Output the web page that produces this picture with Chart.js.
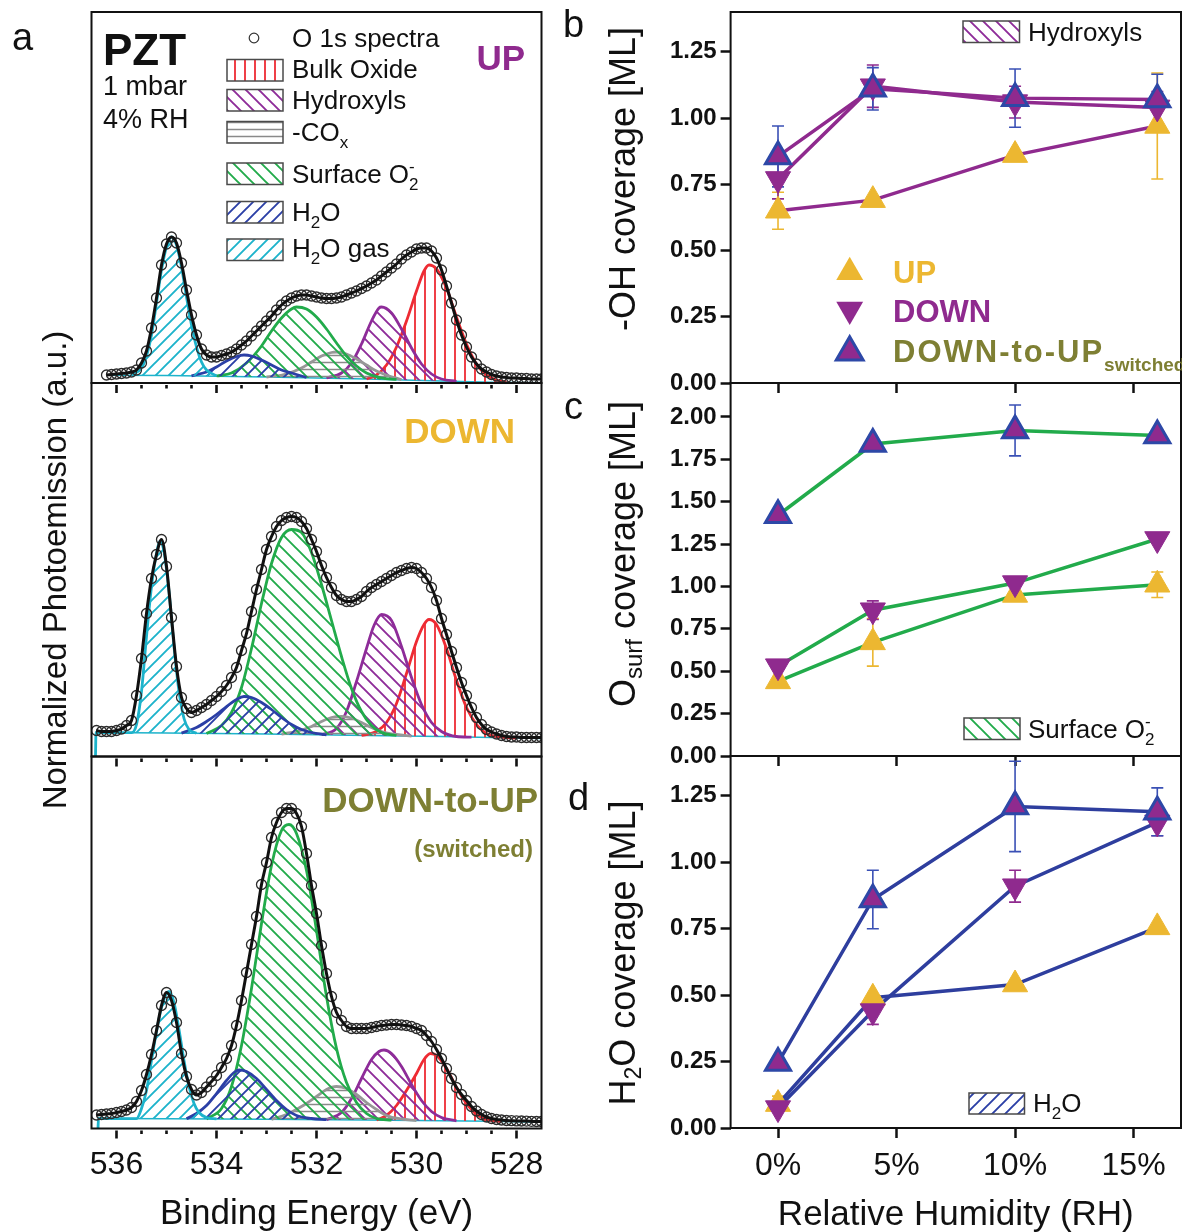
<!DOCTYPE html>
<html><head><meta charset="utf-8">
<script src="https://cdn.jsdelivr.net/npm/chart.js@4.4.1/dist/chart.umd.min.js"></script>
<style>
html,body{margin:0;padding:0;background:#fff;}
#wrap{position:relative;width:1182px;height:1232px;overflow:hidden;background:#fff;}
#wrap canvas{position:absolute;left:-40px;top:-40px;}
</style></head><body>
<div id="wrap">
<canvas id="cUp" width="1262" height="1312"></canvas>
<canvas id="cDown" width="1262" height="1312"></canvas>
<canvas id="cSw" width="1262" height="1312"></canvas>
<canvas id="cOH" width="1262" height="1312"></canvas>
<canvas id="cOS" width="1262" height="1312"></canvas>
<canvas id="cH2O" width="1262" height="1312"></canvas>
</div>
<script>
// ---------------- DATA ----------------
// Binding energy grid (eV) of the measured O 1s spectra
const energies = [
536.4,536.3,536.2,536.1,536.0,535.9,535.8,535.7,535.6,535.5,
535.4,535.3,535.2,535.1,535.0,534.9,534.8,534.7,534.6,534.5,
534.4,534.3,534.2,534.1,534.0,533.9,533.8,533.7,533.6,533.5,
533.4,533.3,533.2,533.1,533.0,532.9,532.8,532.7,532.6,532.5,
532.4,532.3,532.2,532.1,532.0,531.9,531.8,531.7,531.6,531.5,
531.4,531.3,531.2,531.1,531.0,530.9,530.8,530.7,530.6,530.5,
530.4,530.3,530.2,530.1,530.0,529.9,529.8,529.7,529.6,529.5,
529.4,529.3,529.2,529.1,529.0,528.9,528.8,528.7,528.6,528.5,
528.4,528.3,528.2,528.1,528.0,527.9,527.8,527.7,527.6,527.5];

// Normalized photoemission (a.u.)
const spectrumUp = [
null,null,0.8,0.85,0.9,0.95,1.0,1.1,1.3,2.0,
3.2,5.5,8.5,11.8,13.9,14.6,14.0,12.0,9.3,6.8,
4.8,3.4,2.8,2.6,2.6,2.75,2.9,3.1,3.4,3.8,
4.2,4.7,5.2,5.7,6.2,6.7,7.3,7.8,8.2,8.5,
8.7,8.8,8.8,8.7,8.6,8.5,8.45,8.45,8.5,8.6,
8.8,9.0,9.2,9.45,9.7,10.0,10.3,10.7,11.1,11.5,
11.9,12.4,12.8,13.1,13.4,13.5,13.5,13.2,12.5,11.3,
9.7,8.0,6.3,4.8,3.6,2.6,1.9,1.4,1.1,0.85,
0.7,0.6,0.55,0.5,0.5,0.45,0.45,0.4,0.4,0.4];
const spectrumDown = [
2.6,2.5,2.5,2.5,2.6,2.75,3.1,3.6,6.1,9.8,
14.3,17.8,20.2,21.7,19.0,13.9,9.0,5.9,4.8,4.4,
4.6,4.9,5.2,5.6,6.0,6.5,7.1,7.9,8.9,10.6,
12.3,14.5,16.7,18.7,20.7,22.0,23.0,23.6,23.9,24.0,
23.9,23.5,22.8,21.7,20.5,19.1,17.9,16.9,16.1,15.7,
15.5,15.5,15.7,16.0,16.5,16.9,17.2,17.5,17.8,18.1,
18.4,18.6,18.8,18.9,18.8,18.4,17.8,16.9,15.6,13.8,
12.2,10.5,8.9,7.4,6.1,4.9,3.9,3.2,2.7,2.45,
2.25,2.1,2.0,1.95,1.95,1.9,1.9,1.9,1.9,1.9];
const spectrumSwitched = [
1.35,1.4,1.45,1.5,1.6,1.7,1.85,2.1,2.7,3.8,
5.4,7.4,9.8,12.3,13.6,12.8,10.6,7.5,5.2,3.9,
3.35,3.6,4.15,4.7,5.3,6.1,7.0,8.3,10.3,12.8,
15.6,18.4,21.2,24.4,26.6,29.1,30.6,31.6,32.0,32.0,
31.5,30.2,27.5,24.3,21.5,18.3,15.5,13.2,11.6,10.8,
10.2,10.0,10.0,10.0,10.0,10.1,10.2,10.3,10.35,10.4,
10.4,10.35,10.3,10.2,10.0,9.8,9.3,8.7,7.9,7.0,
6.0,5.0,4.1,3.4,2.8,2.2,1.75,1.4,1.15,1.0,
0.9,0.85,0.8,0.78,0.76,0.75,0.74,0.72,0.7,0.7];

// Fitted components [binding energy, intensity] -- UP
const upGas = [[535.7,0.8],[535.5,1.5],[535.4,2.7],[535.3,4.8],[535.2,8.0],[535.1,11.3],[535.0,13.6],[534.9,14.6],[534.8,13.8],[534.7,11.6],[534.6,8.6],[534.5,5.8],[534.4,3.6],[534.3,2.1],[534.2,1.3],[534.0,0.72]];
const upWater = [[534.5,0.72],[534.2,1.1],[534.0,1.6],[533.8,2.2],[533.6,2.65],[533.45,2.8],[533.3,2.7],[533.1,2.3],[532.9,1.8],[532.7,1.3],[532.5,1.0],[532.2,0.55]];
const upSurface = [[534.0,0.7],[533.7,1.0],[533.4,2.0],[533.1,3.7],[532.9,5.2],[532.7,6.5],[532.5,7.4],[532.4,7.6],[532.2,7.4],[532.0,6.6],[531.8,5.4],[531.6,4.0],[531.4,2.7],[531.2,1.7],[531.0,1.0],[530.7,0.5],[530.4,0.36]];
const upCOx = [[533.0,0.6],[532.6,0.9],[532.3,1.5],[532.1,2.1],[531.9,2.7],[531.7,3.05],[531.6,3.1],[531.4,2.9],[531.2,2.4],[531.0,1.8],[530.8,1.2],[530.6,0.8],[530.3,0.33]];
const upHydroxyl = [[531.8,0.5],[531.5,1.0],[531.3,2.0],[531.1,3.9],[530.9,6.2],[530.75,7.5],[530.7,7.6],[530.5,7.0],[530.3,5.4],[530.1,3.5],[529.9,1.9],[529.7,0.9],[529.5,0.4],[529.2,0.17]];
const upBulk = [[531.0,0.4],[530.8,0.8],[530.6,1.8],[530.4,3.6],[530.2,6.2],[530.0,9.2],[529.85,11.2],[529.75,11.8],[529.6,11.4],[529.4,9.5],[529.2,6.6],[529.0,3.9],[528.8,1.9],[528.6,0.8],[528.4,0.3],[528.2,0.1]];
const upBaseline = [[536.2,0.78],[535.0,0.75],[533.0,0.6],[531.0,0.4],[529.5,0.2],[528.5,0.08],[527.5,0.03]];

// -- DOWN
const downGas = [[536.42,0],[536.41,2.4],[535.7,2.38],[535.6,3.2],[535.5,6.5],[535.4,12.0],[535.3,17.0],[535.2,20.3],[535.13,21.5],[535.05,20.5],[534.95,16.5],[534.85,11.0],[534.75,6.5],[534.65,3.8],[534.55,2.7],[534.4,2.33]];
const downWater = [[534.7,2.34],[534.4,2.9],[534.2,3.5],[534.0,4.2],[533.8,5.0],[533.6,5.7],[533.45,6.0],[533.3,5.9],[533.1,5.4],[532.9,4.7],[532.7,3.9],[532.5,3.2],[532.3,2.7],[532.1,2.4],[531.8,2.16]];
const downSurface = [[534.2,2.31],[533.9,3.1],[533.7,4.4],[533.5,6.9],[533.3,10.8],[533.1,15.3],[532.9,19.3],[532.7,21.9],[532.5,22.7],[532.3,22.4],[532.1,20.4],[531.9,17.2],[531.7,13.6],[531.5,10.0],[531.3,6.8],[531.1,4.5],[530.9,3.1],[530.7,2.4],[530.4,2.1]];
const downCOx = [[532.7,2.25],[532.4,2.5],[532.1,3.0],[531.9,3.5],[531.7,3.9],[531.5,4.0],[531.3,3.85],[531.1,3.4],[530.9,2.9],[530.7,2.5],[530.4,2.2],[530.1,2.04]];
const downHydroxyl = [[531.9,2.17],[531.6,2.8],[531.4,4.5],[531.2,7.5],[531.0,10.8],[530.85,13.1],[530.7,14.2],[530.5,13.6],[530.3,11.0],[530.1,7.9],[529.9,5.2],[529.7,3.4],[529.5,2.5],[529.2,2.0],[528.9,1.94]];
const downBulk = [[531.1,2.1],[530.8,2.5],[530.6,3.4],[530.4,5.3],[530.2,8.3],[530.0,11.5],[529.85,13.2],[529.75,13.7],[529.6,13.2],[529.4,10.8],[529.2,7.6],[529.0,4.9],[528.8,3.2],[528.6,2.3],[528.3,1.95],[528.0,1.85]];
const downBaseline = [[536.41,2.4],[535.0,2.35],[533.0,2.25],[531.0,2.1],[529.5,2.0],[528.5,1.9],[527.5,1.8]];

// -- DOWN-to-UP (switched)
const swGas = [[536.37,0],[536.36,1.0],[535.6,0.99],[535.5,2.0],[535.4,3.8],[535.3,6.8],[535.2,9.7],[535.1,12.1],[535.0,13.5],[534.95,13.7],[534.85,12.6],[534.75,9.9],[534.65,6.8],[534.55,4.2],[534.45,2.5],[534.35,1.6],[534.2,1.1],[534.0,0.97]];
const swWater = [[534.6,0.97],[534.4,1.5],[534.2,2.3],[534.0,3.5],[533.8,4.8],[533.65,5.6],[533.55,5.85],[533.4,5.7],[533.2,5.0],[533.0,3.9],[532.8,2.8],[532.6,1.9],[532.4,1.3],[532.1,1.0],[531.8,0.89]];
const swSurface = [[534.2,0.95],[533.9,2.0],[533.7,4.2],[533.5,8.3],[533.3,14.0],[533.1,20.5],[532.9,26.3],[532.7,29.8],[532.55,30.4],[532.4,29.5],[532.2,25.8],[532.0,19.8],[531.8,13.2],[531.6,8.0],[531.4,4.6],[531.2,2.6],[531.0,1.5],[530.8,1.0],[530.5,0.83]];
const swCOx = [[532.9,0.92],[532.6,1.4],[532.3,2.2],[532.0,3.2],[531.8,3.9],[531.6,4.2],[531.4,4.0],[531.2,3.4],[531.0,2.6],[530.8,1.9],[530.6,1.3],[530.3,0.95],[530.0,0.8]];
const swHydroxyl = [[531.8,0.88],[531.5,1.6],[531.3,3.0],[531.1,5.0],[530.9,6.9],[530.75,7.7],[530.65,7.85],[530.5,7.5],[530.3,6.2],[530.1,4.4],[529.9,2.8],[529.7,1.7],[529.5,1.1],[529.2,0.76]];
const swBulk = [[530.8,0.84],[530.6,1.3],[530.4,2.3],[530.2,3.8],[530.0,5.5],[529.85,6.9],[529.72,7.5],[529.6,7.3],[529.4,6.0],[529.2,4.1],[529.0,2.5],[528.8,1.4],[528.6,0.9],[528.3,0.70]];
const swBaseline = [[536.36,1.0],[535.0,0.98],[533.0,0.92],[531.0,0.85],[529.5,0.78],[528.5,0.72],[527.5,0.62]];

const beMajorTicks = [536, 534, 532, 530, 528];
const beMinorTicks = [535.5,535,534.5,533.5,533,532.5,531.5,531,530.5,529.5,529,528.5];

// Coverage vs relative humidity
const rhValues = [0, 4, 10, 16];
const rhTicks = [0, 5, 10, 15];
const ohTicks = [0, 0.25, 0.5, 0.75, 1.0, 1.25];
const osTicks = [0, 0.25, 0.5, 0.75, 1.0, 1.25, 1.5, 1.75, 2.0];
const h2oTicks = [0, 0.25, 0.5, 0.75, 1.0, 1.25];

const ohUp = [0.65, 0.69, 0.86, 0.97];
const ohUpErr = [0.07, 0, 0, 0.20];
const ohDown = [0.77, 1.12, 1.06, 1.04];
const ohDownErr = [0.075, 0.08, 0.06, 0.06];
const ohSwitched = [0.855, 1.11, 1.075, 1.07];
const ohSwitchedErr = [0.115, 0.08, 0.11, 0.095];

const osUp = [0.44, 0.67, 0.95, 1.01];
const osUpErr = [0, 0.14, 0, 0.075];
const osDown = [0.53, 0.86, 1.02, 1.28];
const osDownErr = [0, 0.055, 0, 0];
const osSwitched = [1.42, 1.84, 1.92, 1.89];
const osSwitchedErr = [0, 0, 0.15, 0];

const h2oUp = [0.09, 0.49, 0.54, 0.755];
const h2oUpErr = [0.03, 0, 0, 0];
const h2oDown = [0.075, 0.44, 0.91, 1.15];
const h2oDownErr = [0, 0.05, 0.06, 0.05];
const h2oSwitched = [0.245, 0.86, 1.21, 1.19];
const h2oSwitchedErr = [0, 0.11, 0.17, 0.09];

// ---------------- STYLE / LAYOUT ----------------
const W = 1182, H = 1232, M = 40;           // page size, canvas margin (canvases are W+2M x H+2M)
const FONT = '"Liberation Sans", Arial, Helvetica, sans-serif';
Chart.defaults.font.family = FONT;
Chart.defaults.color = '#111';
Chart.defaults.animation = false;

const LEFT_X = {l: 91.5, r: 541.5};
const RIGHT_X = {l: 730.6, r: 1181};
const Y_AXIS_W = 62;

const COL = {bulk:'#EE2B33', hydroxyl:'#8E2C99', cox:'#979797', surface:'#22AB4B', water:'#2B3FA6', gas:'#1DB3CB'};
const UPC = '#ECB731', DOWNC = '#8F2A8E', SWEDGE = '#2D48A7', OLIVE = '#7E7F33';

function makePattern(color, kind, sp, lw) {
  const c = document.createElement('canvas'); c.width = sp; c.height = sp;
  const g = c.getContext('2d'); g.strokeStyle = color; g.lineWidth = lw;
  g.beginPath();
  if (kind === 'v') { g.moveTo(sp/2, 0); g.lineTo(sp/2, sp); }
  else if (kind === 'h') { g.moveTo(0, sp/2); g.lineTo(sp, sp/2); }
  else if (kind === 'b') {
    g.moveTo(-2, -2); g.lineTo(sp+2, sp+2);
    g.moveTo(-2, sp-2); g.lineTo(2, sp+2);
    g.moveTo(sp-2, -2); g.lineTo(sp+2, 2);
  } else {
    g.moveTo(-2, sp+2); g.lineTo(sp+2, -2);
    g.moveTo(-2, 2); g.lineTo(2, -2);
    g.moveTo(sp-2, sp+2); g.lineTo(sp+2, sp-2);
  }
  g.stroke();
  return document.createElement('canvas').getContext('2d').createPattern(c, 'repeat');
}
const PAT = {
  bulk: makePattern(COL.bulk, 'v', 10, 1.8),
  hydroxyl: makePattern(COL.hydroxyl, 'b', 13, 1.9),
  cox: makePattern('#8a8a8a', 'h', 7, 1.5),
  surface: makePattern(COL.surface, 'b', 14, 1.9),
  water: makePattern(COL.water, 's', 13, 1.9),
  gas: makePattern(COL.gas, 's', 13, 1.9),
};

// ---------------- TEXT HELPERS (page coordinates) ----------------
function rich(ctx, parts, x, y, size, o = {}) {
  const b = o.bold ? 'bold ' : '';
  const fMain = b + size + 'px ' + FONT;
  const fSub = b + Math.round(size * (o.subScale || 0.64)) + 'px ' + FONT;
  ctx.save();
  const items = parts.map(p => {
    ctx.font = (p.sub || p.sup) ? fSub : fMain;
    if ('letterSpacing' in ctx) ctx.letterSpacing = (p.spacing || 0) + 'px';
    return {p, w: ctx.measureText(p.t).width};
  });
  let cx = 0, prevStart = 0, prevW = 0; const pos = [];
  items.forEach(it => {
    if (it.p.stack) { pos.push(prevStart); cx += Math.max(0, it.w - prevW); prevW = Math.max(prevW, it.w); }
    else { pos.push(cx); prevStart = cx; prevW = it.w; cx += it.w; }
  });
  let x0 = x;
  if (o.align === 'center') x0 = x - cx / 2; else if (o.align === 'right') x0 = x - cx;
  ctx.fillStyle = o.color || '#111'; ctx.textAlign = 'left'; ctx.textBaseline = o.baseline || 'alphabetic';
  items.forEach((it, i) => {
    ctx.font = (it.p.sub || it.p.sup) ? fSub : fMain;
    if ('letterSpacing' in ctx) ctx.letterSpacing = (it.p.spacing || 0) + 'px';
    const dy = it.p.sub ? size * 0.28 : it.p.sup ? -size * 0.42 : 0;
    ctx.fillText(it.p.t, x0 + pos[i], y + dy);
  });
  ctx.restore();
  return cx;
}
function txt(ctx, s, x, y, size, o = {}) { return rich(ctx, [{t: s}], x, y, size, o); }
function richRot(ctx, parts, cx, cy, size, o = {}) {
  ctx.save(); ctx.translate(cx, cy); ctx.rotate(-Math.PI / 2);
  rich(ctx, parts, 0, 0, size, Object.assign({}, o, {align: 'center', baseline: 'middle'}));
  ctx.restore();
}
function hatchBox(ctx, x, y, w, h, pattern) {
  ctx.save(); ctx.fillStyle = pattern; ctx.fillRect(x, y, w, h);
  ctx.strokeStyle = '#4a4a4a'; ctx.lineWidth = 1.5; ctx.strokeRect(x, y, w, h); ctx.restore();
}
function tri(ctx, cx, cy, r, down, fill, edge, ew) {
  const s = down ? -1 : 1;
  ctx.save(); ctx.beginPath();
  ctx.moveTo(cx, cy - s * r);
  ctx.lineTo(cx + 0.866 * r, cy + s * 0.5 * r);
  ctx.lineTo(cx - 0.866 * r, cy + s * 0.5 * r);
  ctx.closePath(); ctx.fillStyle = fill; ctx.fill();
  if (ew) { ctx.strokeStyle = edge; ctx.lineWidth = ew; ctx.stroke(); }
  ctx.restore();
}

const framePlugin = {
  id: 'frame',
  afterDraw(chart) {
    const {ctx, chartArea: a} = chart;
    ctx.save(); ctx.strokeStyle = '#111'; ctx.lineWidth = 2;
    ctx.strokeRect(a.left, a.top, a.right - a.left, a.bottom - a.top); ctx.restore();
  }
};
const beTicksPlugin = {
  id: 'beTicks',
  afterDraw(chart) {
    const {ctx, chartArea: a, scales: {x}} = chart;
    ctx.save(); ctx.fillStyle = '#111';
    beMajorTicks.forEach(v => { const px = x.getPixelForValue(v); ctx.fillRect(px - 1.3, a.bottom + 2, 2.6, 8); });
    beMinorTicks.forEach(v => { const px = x.getPixelForValue(v); ctx.fillRect(px - 1.3, a.bottom + 2, 2.6, 3.5); });
    ctx.restore();
  }
};
function decorPlugin(fn) {
  return {id: 'decor', afterDraw(chart) { const ctx = chart.ctx; ctx.save(); ctx.translate(M, M); fn(ctx, chart); ctx.restore(); }};
}
// keep the plot area exactly where the figure has it (page coordinates)
function pinArea(chart, pad, target) {
  for (let k = 0; k < 5; k++) {
    const a = chart.chartArea;
    const dl = target.left + M - a.left, dr = a.right - (target.right + M);
    const dt = target.top + M - a.top, db = a.bottom - (target.bottom + M);
    if (Math.abs(dl) + Math.abs(dr) + Math.abs(dt) + Math.abs(db) < 0.2) break;
    pad.left += dl; pad.right += dr; pad.top += dt; pad.bottom += db;
    chart.update('none');
  }
}

// ---------------- SPECTRA (panel a) ----------------
function xy(pairs) { return pairs.map(p => ({x: p[0], y: p[1]})); }
function spectrumPoints(vals) { return energies.map((e, i) => ({x: e, y: vals[i]})).filter(p => p.y !== null); }

function spectrumChart(id, top, bottom, yMax, spectrum, comps, baseline, isBottom, decorate) {
  const pts = spectrumPoints(spectrum);
  const keys = ['gas', 'water', 'surface', 'cox', 'hydroxyl', 'bulk'];
  const baseIndex = 2 + keys.length;
  const datasets = [
    {label: 'Fit', data: pts, borderColor: '#111', borderWidth: 3, pointRadius: 0, fill: false, cubicInterpolationMode: 'monotone', order: 0},
    {label: 'O 1s spectra', data: pts, showLine: false, pointRadius: 5, pointBorderColor: '#2c2c2c', pointBorderWidth: 1.3, pointBackgroundColor: 'rgba(255,255,255,0)', order: 1},
  ];
  keys.forEach((k, i) => datasets.push({label: k, data: xy(comps[k]), borderColor: COL[k], borderWidth: 2.8,
    backgroundColor: PAT[k], fill: baseIndex, pointRadius: 0, cubicInterpolationMode: 'monotone', order: 2 + i}));
  datasets.push({label: 'baseline', data: xy(baseline), borderColor: COL.gas, borderWidth: 1.6, pointRadius: 0, fill: false, order: 20});
  const axisH = isBottom ? 60 : 0;
  const pad = {left: LEFT_X.l + M, right: W + M - LEFT_X.r, top: top + M, bottom: H + M - bottom - axisH};
  const chart = new Chart(document.getElementById(id), {
    type: 'line',
    data: {datasets},
    options: {
      responsive: false, devicePixelRatio: 1, animation: false,
      layout: {padding: pad},
      plugins: {legend: {display: false}, tooltip: {enabled: false}},
      scales: {
        x: {type: 'linear', reverse: true, min: 527.5, max: 536.5, display: isBottom,
          afterBuildTicks: a => { a.ticks = beMajorTicks.map(v => ({value: v})); },
          afterFit: a => { a.height = axisH; },
          grid: {display: false, drawTicks: false}, border: {display: false},
          ticks: {padding: 17, font: {size: 32}, color: '#111', maxRotation: 0, autoSkip: false, callback: v => String(v)}},
        y: {display: false, min: 0, max: yMax}
      }
    },
    plugins: [framePlugin, beTicksPlugin, decorPlugin(decorate)]
  });
  pinArea(chart, pad, {left: LEFT_X.l, right: LEFT_X.r, top, bottom});
  return chart;
}

const legendRows = [
  {key: 'bulk', parts: [{t: 'Bulk Oxide'}], y0: 59.5, base: 78},
  {key: 'hydroxyl', parts: [{t: 'Hydroxyls'}], y0: 89.5, base: 109},
  {key: 'cox', parts: [{t: '-CO'}, {t: 'x', sub: 1}], y0: 121.5, base: 141},
  {key: 'surface', parts: [{t: 'Surface O'}, {t: '2', sub: 1}, {t: '-', sup: 1, stack: 1}], y0: 163, base: 182.5},
  {key: 'water', parts: [{t: 'H'}, {t: '2', sub: 1}, {t: 'O'}], y0: 201.5, base: 220.5},
  {key: 'gas', parts: [{t: 'H'}, {t: '2', sub: 1}, {t: 'O gas'}], y0: 239, base: 257},
];

spectrumChart('cUp', 12, 383, 37.1, spectrumUp,
  {gas: upGas, water: upWater, surface: upSurface, cox: upCOx, hydroxyl: upHydroxyl, bulk: upBulk}, upBaseline, false,
  (ctx) => {
    txt(ctx, 'a', 12, 50, 38);
    richRot(ctx, [{t: 'Normalized Photoemission (a.u.)'}], 57, 570, 33);
    txt(ctx, 'PZT', 103, 65, 44, {bold: true});
    txt(ctx, '1 mbar', 103, 95, 27);
    txt(ctx, '4% RH', 103, 128, 27);
    txt(ctx, 'UP', 525, 70, 35, {bold: true, color: DOWNC, align: 'right'});
    ctx.save(); ctx.beginPath(); ctx.arc(254, 38, 4.8, 0, Math.PI * 2); ctx.strokeStyle = '#333'; ctx.lineWidth = 1.2; ctx.stroke(); ctx.restore();
    txt(ctx, 'O 1s spectra', 292, 47, 26);
    legendRows.forEach(r => { hatchBox(ctx, 227, r.y0, 56, 21.5, PAT[r.key]); rich(ctx, r.parts, 292, r.base, 26); });
  });

spectrumChart('cDown', 383, 756.5, 37.35, spectrumDown,
  {gas: downGas, water: downWater, surface: downSurface, cox: downCOx, hydroxyl: downHydroxyl, bulk: downBulk}, downBaseline, false,
  (ctx) => { txt(ctx, 'DOWN', 515, 443, 35, {bold: true, color: UPC, align: 'right'}); });

spectrumChart('cSw', 756.5, 1128.5, 37.2, spectrumSwitched,
  {gas: swGas, water: swWater, surface: swSurface, cox: swCOx, hydroxyl: swHydroxyl, bulk: swBulk}, swBaseline, true,
  (ctx) => {
    txt(ctx, 'DOWN-to-UP', 538, 812, 35, {bold: true, color: OLIVE, align: 'right'});
    txt(ctx, '(switched)', 533, 857, 24, {bold: true, color: OLIVE, align: 'right'});
    txt(ctx, 'Binding Energy (eV)', (LEFT_X.l + LEFT_X.r) / 2, 1224, 35, {align: 'center'});
  });

// ---------------- COVERAGE PANELS (b, c, d) ----------------
const MARK = {
  up: {fill: UPC, edge: UPC, ew: 1, rot: 0, err: UPC},
  down: {fill: DOWNC, edge: DOWNC, ew: 1, rot: 180, err: DOWNC},
  sw: {fill: DOWNC, edge: SWEDGE, ew: 3, rot: 0, err: '#3A50B5'},
};
function errorBarPlugin(series) {
  return {
    id: 'errBars',
    beforeDatasetsDraw(chart) {
      const {ctx, scales: {x, y}} = chart;
      ctx.save(); ctx.lineWidth = 1.6;
      series.forEach(s => {
        ctx.strokeStyle = MARK[s.kind].err;
        s.vals.forEach((v, i) => {
          const e = s.errs[i]; if (!e) return;
          const px = x.getPixelForValue(rhValues[i]);
          const y1 = y.getPixelForValue(v - e), y2 = y.getPixelForValue(v + e);
          ctx.beginPath(); ctx.moveTo(px, y1); ctx.lineTo(px, y2);
          ctx.moveTo(px - 6, y1); ctx.lineTo(px + 6, y1); ctx.moveTo(px - 6, y2); ctx.lineTo(px + 6, y2);
          ctx.stroke();
        });
      });
      ctx.restore();
    }
  };
}
function coverageChart(id, top, bottom, yMax, yTicks, series, lineColor, showX, decorate) {
  const mk = vals => rhValues.map((x, i) => ({x, y: vals[i]}));
  const datasets = [];
  series.forEach((s, i) => datasets.push({label: s.name + ' line', data: mk(s.vals), borderColor: lineColor, borderWidth: 3.5,
    pointRadius: 0, fill: false, tension: 0, order: 10 + i}));
  series.forEach((s, i) => { const m = MARK[s.kind]; datasets.push({label: s.name, data: mk(s.vals), showLine: false,
    pointStyle: 'triangle', pointRadius: 14.5, pointRotation: m.rot, pointBackgroundColor: m.fill, pointBorderColor: m.edge,
    pointBorderWidth: m.ew, order: 3 - i}); });
  const axisH = showX ? 60 : 12;
  const tickGrid = {drawOnChartArea: false, drawTicks: true, tickLength: 10, tickWidth: 2.5, tickColor: '#111'};
  const pad = {left: RIGHT_X.l - Y_AXIS_W + M, right: W + M - RIGHT_X.r, top: top + M, bottom: H + M - bottom - axisH};
  const chart = new Chart(document.getElementById(id), {
    type: 'line',
    data: {datasets},
    options: {
      responsive: false, devicePixelRatio: 1, animation: false,
      layout: {padding: pad},
      plugins: {legend: {display: false}, tooltip: {enabled: false}},
      scales: {
        x: {type: 'linear', min: -2, max: 17,
          afterBuildTicks: a => { a.ticks = rhTicks.map(v => ({value: v})); },
          afterFit: a => { a.height = axisH; },
          grid: tickGrid, border: {display: false},
          ticks: {display: showX, padding: 9, font: {size: 32}, color: '#111', maxRotation: 0, autoSkip: false, callback: v => v + '%'}},
        y: {min: 0, max: yMax,
          afterBuildTicks: a => { a.ticks = yTicks.map(v => ({value: v})); },
          afterFit: a => { a.width = Y_AXIS_W; },
          grid: tickGrid, border: {display: false},
          ticks: {padding: 4, font: {size: 24, weight: 'bold'}, color: '#111', callback: v => Number(v).toFixed(2)}}
      }
    },
    plugins: [errorBarPlugin(series), framePlugin, decorPlugin(decorate)]
  });
  pinArea(chart, pad, {left: RIGHT_X.l, right: RIGHT_X.r, top, bottom});
  return chart;
}

coverageChart('cOH', 12, 383, 1.4, ohTicks, [
  {name: 'UP', kind: 'up', vals: ohUp, errs: ohUpErr},
  {name: 'DOWN', kind: 'down', vals: ohDown, errs: ohDownErr},
  {name: 'DOWN-to-UP', kind: 'sw', vals: ohSwitched, errs: ohSwitchedErr}], DOWNC, false,
  (ctx) => {
    txt(ctx, 'b', 563, 37, 38);
    richRot(ctx, [{t: '-OH coverage [ML]'}], 625, 179, 36);
    hatchBox(ctx, 963, 21, 56.5, 21.5, PAT.hydroxyl);
    txt(ctx, 'Hydroxyls', 1028, 41, 26);
    tri(ctx, 849.7, 272.2, 15.5, false, UPC, UPC, 0);
    tri(ctx, 849.7, 309.5, 15.5, true, DOWNC, DOWNC, 0);
    tri(ctx, 849.7, 352.2, 15.5, false, DOWNC, SWEDGE, 3);
    txt(ctx, 'UP', 893, 283, 31, {bold: true, color: UPC});
    txt(ctx, 'DOWN', 893, 322, 31, {bold: true, color: DOWNC});
    rich(ctx, [{t: 'DOWN-to-UP', spacing: 2}, {t: 'switched', sub: 1}], 893, 362, 31, {bold: true, color: OLIVE, subScale: 0.6});
  });

coverageChart('cOS', 383, 756, 2.2, osTicks, [
  {name: 'UP', kind: 'up', vals: osUp, errs: osUpErr},
  {name: 'DOWN', kind: 'down', vals: osDown, errs: osDownErr},
  {name: 'DOWN-to-UP', kind: 'sw', vals: osSwitched, errs: osSwitchedErr}], COL.surface, false,
  (ctx) => {
    txt(ctx, 'c', 564, 419, 38);
    richRot(ctx, [{t: 'O'}, {t: 'surf', sub: 1}, {t: ' coverage [ML]'}], 625, 554, 36, {subScale: 0.68});
    hatchBox(ctx, 964, 718, 56, 21.5, PAT.surface);
    rich(ctx, [{t: 'Surface O'}, {t: '2', sub: 1}, {t: '-', sup: 1, stack: 1}], 1028, 738, 26);
  });

coverageChart('cH2O', 756, 1128, 1.4, h2oTicks, [
  {name: 'UP', kind: 'up', vals: h2oUp, errs: h2oUpErr},
  {name: 'DOWN', kind: 'down', vals: h2oDown, errs: h2oDownErr},
  {name: 'DOWN-to-UP', kind: 'sw', vals: h2oSwitched, errs: h2oSwitchedErr}], '#2E3E9E', true,
  (ctx) => {
    txt(ctx, 'd', 568, 810, 38);
    richRot(ctx, [{t: 'H'}, {t: '2', sub: 1}, {t: 'O coverage [ML]'}], 625, 953, 36);
    hatchBox(ctx, 969, 1093, 55.5, 21, PAT.water);
    rich(ctx, [{t: 'H'}, {t: '2', sub: 1}, {t: 'O'}], 1033, 1112, 26);
    txt(ctx, 'Relative Humidity (RH)', (RIGHT_X.l + RIGHT_X.r) / 2, 1225, 35, {align: 'center'});
  });
</script>
</body></html>
